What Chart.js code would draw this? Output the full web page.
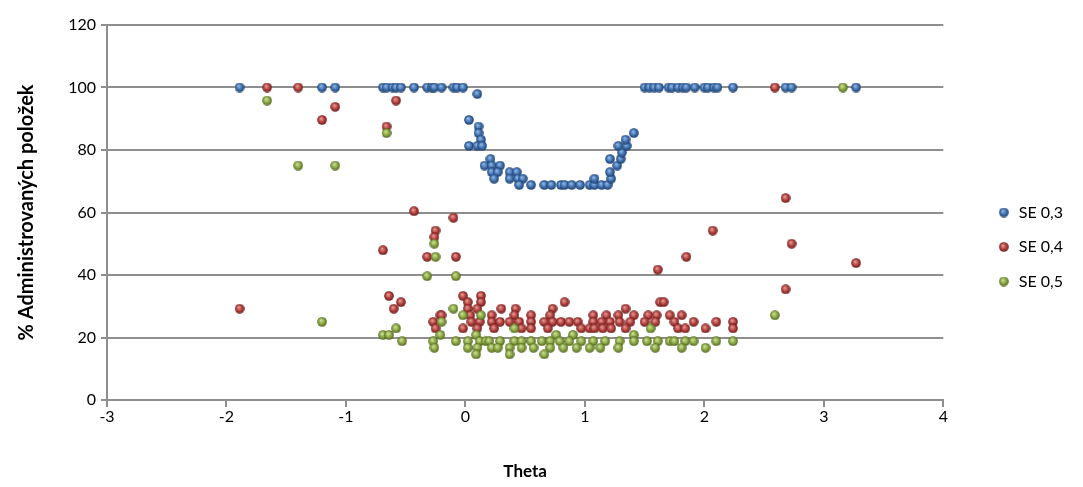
<!DOCTYPE html>
<html>
<head>
<meta charset="utf-8">
<script src="https://cdn.jsdelivr.net/npm/chart.js@4.4.0/dist/chart.umd.min.js"></script>
<style>
  body { margin: 0; background: #fff; }
  canvas { display: block; }
</style>
</head>
<body>
<canvas id="scatter" width="1083" height="487"></canvas>
<script>
// SE 0,3
var se03Theta = [-1.89, -1.20, -1.09, -0.69, -0.66, -0.61, -0.58, -0.54, -0.43, -0.32, -0.28, -0.26, -0.20, -0.10, -0.07, -0.02,
    1.50, 1.54, 1.58, 1.62, 1.70, 1.73, 1.78, 1.82, 1.85, 1.92, 2.00, 2.03, 2.08, 2.11, 2.24, 2.68, 2.73, 3.27,
    0.10, 0.03, 0.11, 0.11, 0.13, 0.03, 0.10, 0.14, 0.21, 0.16, 0.22, 0.29, 0.22, 0.27, 0.24, 0.37, 0.43, 0.37, 0.44, 0.48,
    0.45, 0.55, 0.66, 0.72, 0.80, 0.83, 0.89, 0.96, 1.04, 1.08, 1.14, 1.19, 1.08, 1.22, 1.21, 1.21, 1.27, 1.30, 1.31, 1.28, 1.35, 1.34, 1.41];
var se03Pct = [100, 100, 100, 100, 100, 100, 100, 100, 100, 100, 100, 100, 100, 100, 100, 100,
    100, 100, 100, 100, 100, 100, 100, 100, 100, 100, 100, 100, 100, 100, 100, 100, 100, 100,
    97.9, 89.6, 87.5, 85.4, 83.3, 81.3, 81.3, 81.3, 77.1, 75, 75, 75, 72.9, 72.9, 70.8, 72.9, 72.9, 70.8, 70.8, 70.8,
    68.8, 68.8, 68.8, 68.8, 68.8, 68.8, 68.8, 68.8, 68.8, 68.8, 68.8, 68.8, 70.8, 70.8, 72.9, 77.1, 75, 77.1, 79.2, 81.3, 81.3, 83.3, 85.4];

// SE 0,4
var se04Theta = [-1.89, -1.66, -1.40, -1.20, -1.09, -0.58, -0.66, -0.43, -0.10, -0.25, -0.26, -0.69, -0.32, -0.08,
    -0.64, -0.54, -0.60, -0.21, -0.27, -0.25, -0.20,
    -0.02, 0.13, 0.02, 0.13, 0.02, 0.10, 0.30, 0.42, 0.73, 0.83, 1.34, 1.63, 1.66,
    0.04, 0.22, 0.41, 0.55, 0.71, 1.07, 1.18, 1.28, 1.41, 1.53, 1.60, 1.71, 1.81,
    0.05, 0.12, 0.22, 0.29, 0.37, 0.45, 0.55, 0.66, 0.73, 0.80, 0.87, 0.94, 1.07, 1.14, 1.21, 1.29, 1.38, 1.50, 1.59, 1.75, 1.91, 2.10, 2.24,
    -0.02, 0.10, 0.24, 0.47, 0.55, 0.69, 0.97, 1.04, 1.08, 1.15, 1.22, 1.34, 1.78, 1.84, 2.01, 2.24,
    1.61, 1.85, 2.07, 2.59, 2.68, 2.73, 2.68, 3.27];
var se04Pct = [29.2, 100, 100, 89.6, 93.8, 95.8, 87.5, 60.4, 58.3, 54.2, 52.1, 47.9, 45.8, 45.8,
    33.3, 31.3, 29.2, 27.1, 25, 22.9, 27.1,
    33.3, 33.3, 31.3, 31.3, 29.2, 29.2, 29.2, 29.2, 29.2, 31.3, 29.2, 31.3, 31.3,
    27.1, 27.1, 27.1, 27.1, 27.1, 27.1, 27.1, 27.1, 27.1, 27.1, 27.1, 27.1, 27.1,
    25, 25, 25, 25, 25, 25, 25, 25, 25, 25, 25, 25, 25, 25, 25, 25, 25, 25, 25, 25, 25, 25, 25,
    22.9, 22.9, 22.9, 22.9, 22.9, 22.9, 22.9, 22.9, 22.9, 22.9, 22.9, 22.9, 22.9, 22.9, 22.9, 22.9,
    41.7, 45.8, 54.2, 100, 64.6, 50, 35.4, 43.8];

// SE 0,5
var se05Theta = [-1.66, -1.40, -1.09, -0.66, -0.26, -0.25, -0.32, -0.08, 3.16, 2.59, -1.20,
    -0.10, -0.02, 0.13, -0.20, -0.58, 0.41, 1.55,
    -0.69, -0.64, -0.21, 0.09, 0.76, 0.90, 1.41,
    -0.53, -0.27, -0.08, 0.02, 0.12, 0.17, 0.20, 0.29, 0.41, 0.47, 0.55, 0.64, 0.71, 0.79, 0.87, 0.97, 1.07, 1.17, 1.29, 1.41, 1.52, 1.61, 1.71, 1.75, 1.84, 1.91, 2.10, 2.24,
    -0.26, 0.02, 0.10, 0.22, 0.27, 0.37, 0.47, 0.57, 0.71, 0.82, 0.93, 1.04, 1.13, 1.28, 1.59, 1.81, 2.01,
    0.09, 0.37, 0.66];
var se05Pct = [95.8, 75, 75, 85.4, 50, 45.8, 39.6, 39.6, 100, 27.1, 25,
    29.2, 27.1, 27.1, 25, 22.9, 22.9, 22.9,
    20.8, 20.8, 20.8, 20.8, 20.8, 20.8, 20.8,
    18.8, 18.8, 18.8, 18.8, 18.8, 18.8, 18.8, 18.8, 18.8, 18.8, 18.8, 18.8, 18.8, 18.8, 18.8, 18.8, 18.8, 18.8, 18.8, 18.8, 18.8, 18.8, 18.8, 18.8, 18.8, 18.8, 18.8, 18.8,
    16.7, 16.7, 16.7, 16.7, 16.7, 16.7, 16.7, 16.7, 16.7, 16.7, 16.7, 16.7, 16.7, 16.7, 16.7, 16.7, 16.7,
    14.6, 14.6, 14.6];

var seriesNames = ['SE 0,3', 'SE 0,4', 'SE 0,5'];
var xTicks = [-3, -2, -1, 0, 1, 2, 3, 4];
var yTicks = [0, 20, 40, 60, 80, 100, 120];

// shaded ball used as the marker
function makeBall(light, mid, dark) {
    var c = document.createElement('canvas');
    c.width = 10; c.height = 10;
    var g = c.getContext('2d');
    var grad = g.createRadialGradient(4, 3.5, 0.5, 5, 5, 5);
    grad.addColorStop(0, light);
    grad.addColorStop(0.55, mid);
    grad.addColorStop(1, dark);
    g.fillStyle = grad;
    g.beginPath();
    g.arc(5, 5, 4.8, 0, Math.PI * 2);
    g.fill();
    return c;
}

function toPoints(xs, ys) {
    return xs.map(function (x, i) { return { x: x, y: ys[i] }; });
}

var blueBall = makeBall('#8db3e2', '#3d6fae', '#1c3a63');
var redBall = makeBall('#e39592', '#b23f3c', '#621a18');
var greenBall = makeBall('#c9dd93', '#88a540', '#4b5f1d');

// move the legend block to the right side
var legendShift = {
    id: 'legendShift',
    afterLayout: function (chart) {
        var lg = chart.legend;
        lg.left += 35; lg.right += 35;
        lg.top -= 9; lg.bottom -= 9;
    }
};

var gridColor = '#8e8e8e';
var fontFamily = 'Lato';

new Chart(document.getElementById('scatter').getContext('2d'), {
    type: 'scatter',
    data: {
        datasets: [{
            label: seriesNames[0],
            data: toPoints(se03Theta, se03Pct),
            pointStyle: blueBall,
            pointRadius: 5,
            order: 2
        }, {
            label: seriesNames[1],
            data: toPoints(se04Theta, se04Pct),
            pointStyle: redBall,
            pointRadius: 5,
            order: 1
        }, {
            label: seriesNames[2],
            data: toPoints(se05Theta, se05Pct),
            pointStyle: greenBall,
            pointRadius: 5,
            order: 0
        }]
    },
    options: {
        responsive: false,
        animation: false,
        layout: { padding: { left: 0, top: 25, right: 45, bottom: 0 } },
        plugins: {
            legend: {
                position: 'right',
                labels: {
                    usePointStyle: true,
                    pointStyleWidth: 14,
                    padding: 18.5,
                    color: '#000',
                    font: { family: fontFamily, size: 16 },
                    sort: function (a, b) { return a.datasetIndex - b.datasetIndex; }
                }
            },
            tooltip: { enabled: false }
        },
        scales: {
            x: {
                type: 'linear',
                min: -3,
                max: 4,
                afterBuildTicks: function (scale) {
                    scale.ticks = xTicks.map(function (v) { return { value: v }; });
                },
                afterFit: function (scale) { scale.height = 87; },
                grid: { drawOnChartArea: false, drawTicks: true, tickLength: 7, color: gridColor, lineWidth: 2 },
                border: { display: true, color: gridColor, width: 2 },
                ticks: { color: '#000', padding: 0, font: { family: fontFamily, size: 16 } },
                title: {
                    display: true,
                    text: 'Theta',
                    color: '#000',
                    padding: { top: 0, bottom: 5 },
                    font: { family: fontFamily, size: 17, weight: 'bold' }
                }
            },
            y: {
                min: 0,
                max: 120,
                afterBuildTicks: function (scale) {
                    scale.ticks = yTicks.map(function (v) { return { value: v }; });
                },
                afterFit: function (scale) { scale.width = 107; },
                grid: { drawOnChartArea: true, drawTicks: true, tickLength: 6, color: gridColor, lineWidth: 2 },
                border: { display: true, color: gridColor, width: 2 },
                ticks: { color: '#000', padding: 5, font: { family: fontFamily, size: 16 } },
                title: {
                    display: true,
                    text: '% Administrovaných položek',
                    color: '#000',
                    padding: { top: 15, bottom: 0 },
                    font: { family: fontFamily, size: 20, weight: 'bold' }
                }
            }
        }
    },
    plugins: [legendShift]
});
</script>
</body>
</html>
